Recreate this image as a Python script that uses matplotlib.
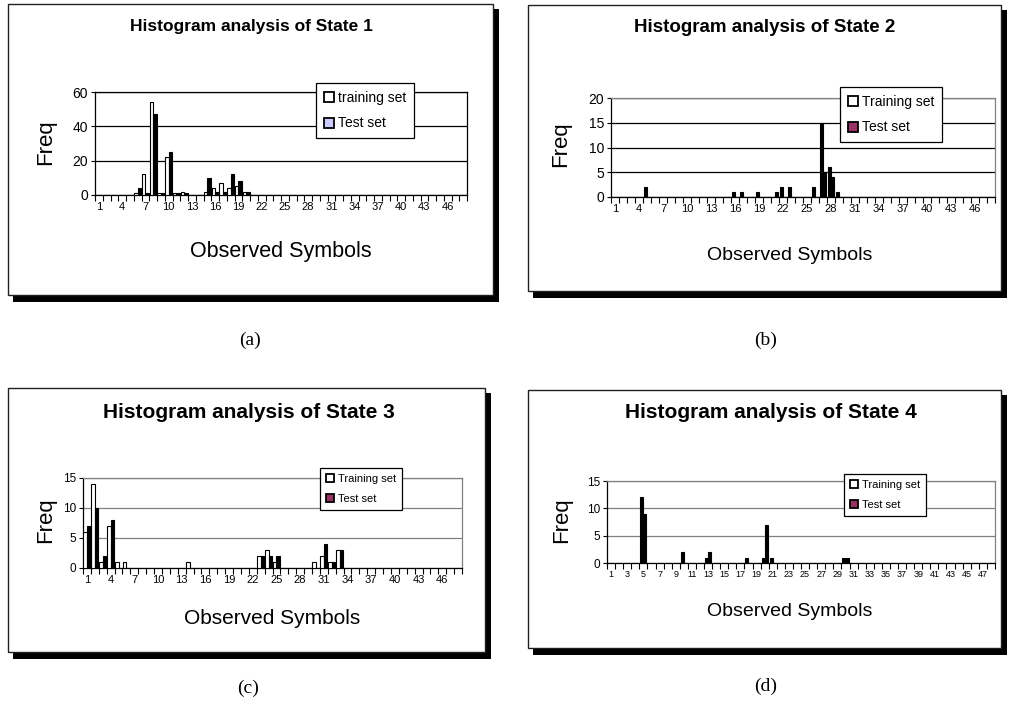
import matplotlib.pyplot as plt
import numpy as np
from matplotlib.patches import Patch, Rectangle

W, H = 1009, 712

symbols = np.arange(1, 49)
ticks_every3 = list(range(1, 47, 3))
ticks_every2 = list(range(1, 48, 2))

# State 1
s1_symbols = [6, 7, 8, 9, 10, 11, 12, 15, 16, 17, 18, 19, 20]
s1_train = [1, 12, 54, 1, 22, 1, 2, 2, 4, 7, 4, 5, 2]
s1_test = [4, 1, 47, 1, 25, 1, 1, 10, 2, 2, 12, 8, 2]

# State 2
s2_symbols = [5, 16, 17, 19, 21, 22, 23, 26, 27, 28, 29]
s2_train = [2, 1, 1, 1, 0, 2, 2, 2, 15, 6, 1]
s2_test = [0, 0, 0, 0, 1, 0, 0, 0, 5, 4, 0]

# State 3
s3_symbols = [1, 2, 3, 4, 5, 6, 14, 23, 24, 25, 30, 31, 32, 33]
s3_train = [6, 14, 1, 7, 1, 1, 1, 2, 3, 1, 1, 2, 1, 3]
s3_test = [7, 10, 2, 8, 0, 0, 0, 2, 2, 2, 0, 4, 1, 3]

# State 4
s4_symbols = [5, 10, 13, 18, 20, 21, 30]
s4_train = [12, 2, 1, 1, 1, 1, 1]
s4_test = [9, 0, 2, 0, 7, 0, 1]

plt.rcParams['font.family'] = ['Liberation Sans', 'DejaVu Sans']

fig = plt.figure(figsize=(W / 100, H / 100), dpi=100)


def fx(x):
    return x / W


def fy(y):
    return 1 - y / H


def full(sym, vals):
    arr = np.zeros(len(symbols))
    arr[np.array(sym) - 1] = vals
    return arr


def draw_box(x0, y0, x1, y1):
    # black drop shadow, then the white chart frame
    fig.patches.append(Rectangle((fx(x0 + 5), fy(y1 + 7)), fx(x1 - x0 + 1), (y1 - y0 + 2) / H,
                                 transform=fig.transFigure, facecolor='black', edgecolor='none', zorder=-2))
    fig.patches.append(Rectangle((fx(x0), fy(y1)), fx(x1 - x0), (y1 - y0) / H,
                                 transform=fig.transFigure, facecolor='white', edgecolor='#202020',
                                 linewidth=1.0, zorder=-1))


def panel(box, plot, title, title_xy, title_size, sym, train, test, ymax, ystep, xticks,
          train_face, test_color, train_label, legend_xy, legend_size, bar_w,
          grid_color, frame_color, freq_xy, xlabel_xy, xlabel_size, xtick_size, ytick_size):
    draw_box(*box)
    x0, y0, x1, y1 = plot
    ax = fig.add_axes([fx(x0), fy(y1), fx(x1 - x0), (y1 - y0) / H])
    ax.set_facecolor('none')

    tr, te = full(sym, train), full(sym, test)
    ax.bar(symbols[tr > 0] - bar_w / 2, tr[tr > 0], width=bar_w, color=train_face,
           edgecolor='black', linewidth=0.8, zorder=3)
    ax.bar(symbols[te > 0] + bar_w / 2, te[te > 0], width=bar_w, color='black',
           edgecolor='black', linewidth=0.8, zorder=3)

    ax.set_xlim(0.5, 48.5)
    ax.set_ylim(0, ymax)
    ax.set_yticks(range(0, ymax + 1, ystep))
    ax.set_xticks(np.arange(0.5, 49, 1), labels=[])
    ax.set_xticks(xticks, labels=[str(v) for v in xticks], minor=True)
    ax.tick_params(axis='x', which='major', length=4, width=0.8, direction='out')
    ax.tick_params(axis='x', which='minor', length=0, labelsize=xtick_size, pad=5)
    ax.tick_params(axis='y', length=3, width=0.8, labelsize=ytick_size, pad=2)

    ax.yaxis.grid(True, color=grid_color, linewidth=0.9)
    ax.set_axisbelow(True)
    for side in ('left', 'bottom'):
        ax.spines[side].set_color('black')
        ax.spines[side].set_linewidth(0.9)
    for side in ('top', 'right'):
        ax.spines[side].set_color(frame_color)
        ax.spines[side].set_linewidth(0.9)

    ax.set_ylabel('Freq', fontsize=16, va='center')
    ax.yaxis.set_label_coords((freq_xy[0] - x0) / (x1 - x0), (y1 - freq_xy[1]) / (y1 - y0))
    ax.set_xlabel('Observed Symbols', fontsize=xlabel_size, va='center')
    ax.xaxis.set_label_coords((xlabel_xy[0] - x0) / (x1 - x0), (y1 - xlabel_xy[1]) / (y1 - y0))

    fig.text(fx(title_xy[0]), fy(title_xy[1]), title, ha='center', va='center',
             fontsize=title_size, fontweight='bold')

    handles = [
        Patch(facecolor='white', edgecolor='black', linewidth=1.3, label=train_label),
        Patch(facecolor=test_color, edgecolor='black', linewidth=1.3, label='Test set'),
    ]
    leg = ax.legend(handles=handles, loc='upper left', bbox_to_anchor=(fx(legend_xy[0]), fy(legend_xy[1])),
                    bbox_transform=fig.transFigure, fontsize=legend_size, fancybox=False,
                    edgecolor='black', framealpha=1, borderaxespad=0, borderpad=0.55,
                    handlelength=0.75, handleheight=0.75, handletextpad=0.3, labelspacing=0.85)
    leg.get_frame().set_linewidth(0.9)
    return ax


panel(box=(8, 4, 493, 295), plot=(95, 92, 467, 195), title='Histogram analysis of State 1',
      title_xy=(251, 27), title_size=12.5, sym=s1_symbols, train=s1_train, test=s1_test,
      ymax=60, ystep=20, xticks=ticks_every3, train_face='white', test_color='#CCCCFF',
      train_label='training set', legend_xy=(316, 83), legend_size=10, bar_w=0.45,
      grid_color='black', frame_color='black', freq_xy=(46, 142), xlabel_xy=(281, 252),
      xlabel_size=15.5, xtick_size=8, ytick_size=10)

panel(box=(528, 5, 1001, 291), plot=(611, 98, 995, 197), title='Histogram analysis of State 2',
      title_xy=(765, 27), title_size=13.5, sym=s2_symbols, train=s2_train, test=s2_test,
      ymax=20, ystep=5, xticks=ticks_every3, train_face='black', test_color='#993366',
      train_label='Training set', legend_xy=(840, 87), legend_size=10, bar_w=0.4,
      grid_color='black', frame_color='#808080', freq_xy=(561, 144), xlabel_xy=(790, 255),
      xlabel_size=14, xtick_size=8, ytick_size=10)

panel(box=(8, 388, 485, 652), plot=(83, 478, 462, 568), title='Histogram analysis of State 3',
      title_xy=(249, 412), title_size=15, sym=s3_symbols, train=s3_train, test=s3_test,
      ymax=15, ystep=5, xticks=ticks_every3, train_face='white', test_color='#993366',
      train_label='Training set', legend_xy=(320, 468), legend_size=8, bar_w=0.45,
      grid_color='#808080', frame_color='#808080', freq_xy=(46, 520), xlabel_xy=(272, 619),
      xlabel_size=15, xtick_size=8, ytick_size=8.5)

panel(box=(528, 390, 1001, 648), plot=(607, 481, 995, 563), title='Histogram analysis of State 4',
      title_xy=(771, 412), title_size=15, sym=s4_symbols, train=s4_train, test=s4_test,
      ymax=15, ystep=5, xticks=ticks_every2, train_face='black', test_color='#993366',
      train_label='Training set', legend_xy=(844, 474), legend_size=8, bar_w=0.38,
      grid_color='#808080', frame_color='#808080', freq_xy=(562, 520), xlabel_xy=(790, 612),
      xlabel_size=14, xtick_size=6.5, ytick_size=8.5)

for label, (cx, cy) in zip(['(a)', '(b)', '(c)', '(d)'], [(250, 340), (766, 340), (248, 688), (766, 686)]):
    fig.text(fx(cx), fy(cy), label, ha='center', va='center', fontsize=14, family='Liberation Serif')

fig.savefig('out.png', dpi=100, facecolor='white')
